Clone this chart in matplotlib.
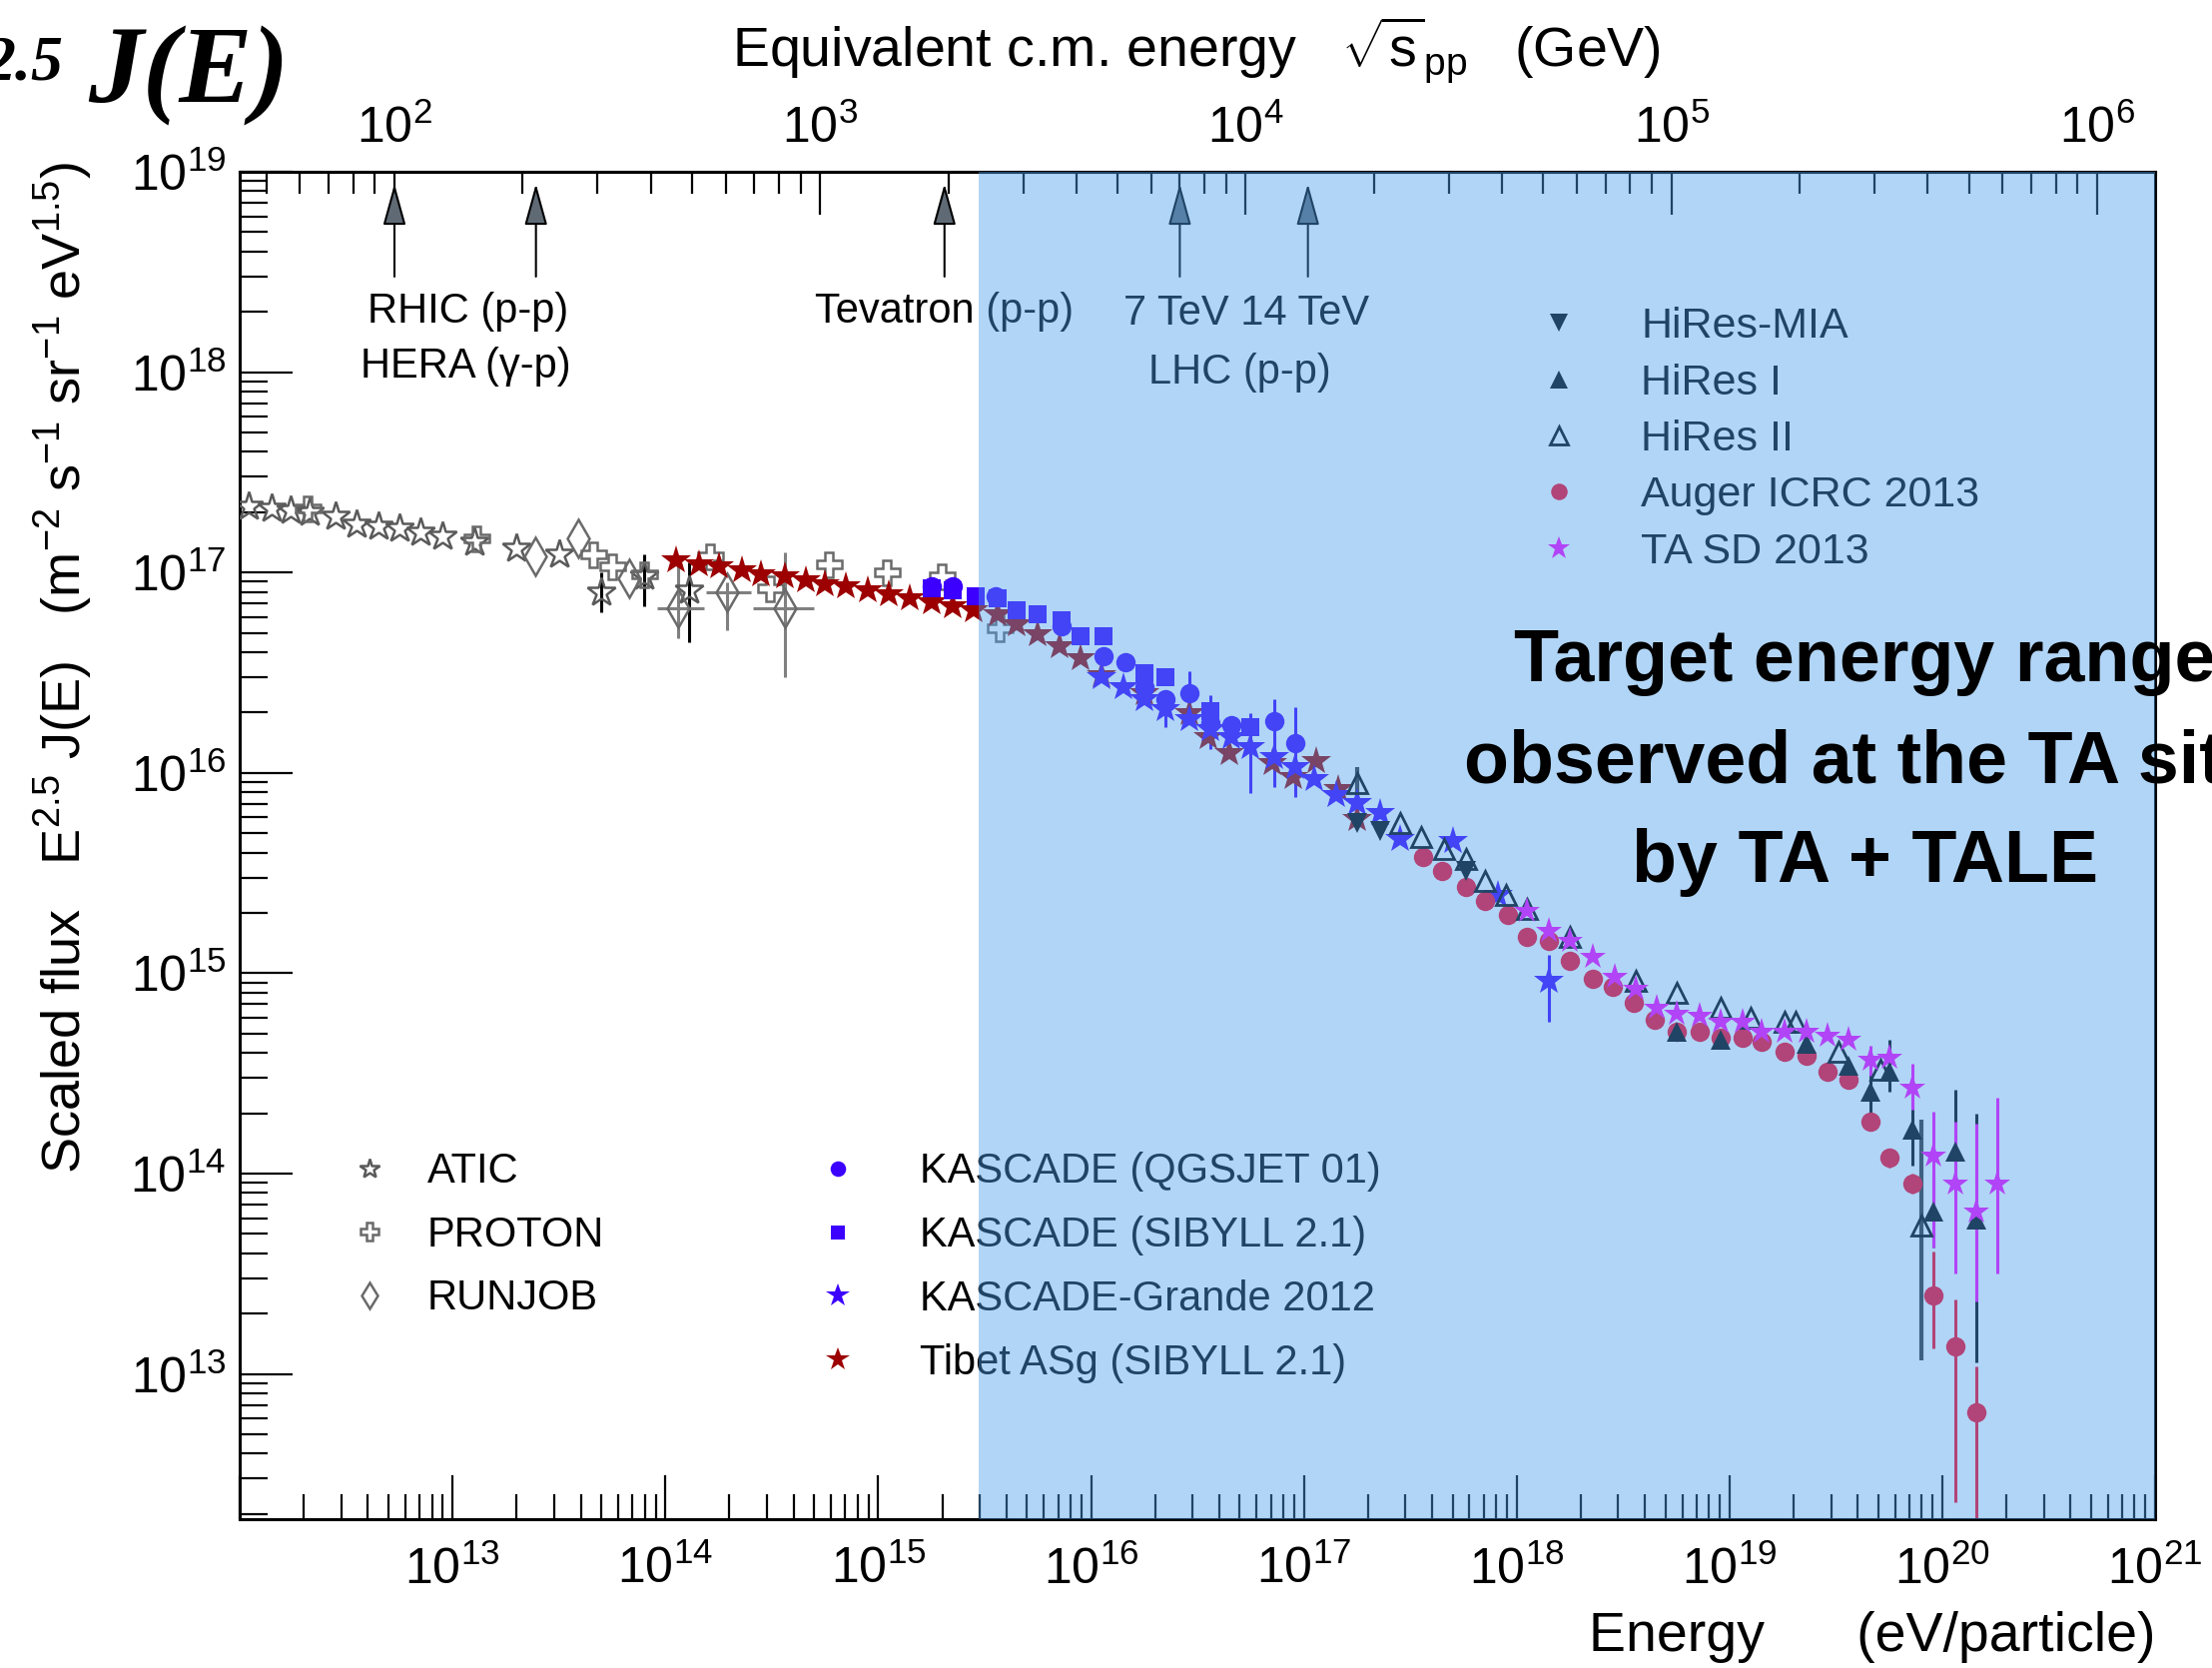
import numpy as np
import matplotlib
matplotlib.use("Agg")
import matplotlib.pyplot as plt
from matplotlib.ticker import LogLocator, NullFormatter, LogFormatterSciNotation, FuncFormatter

plt.rcParams['font.family'] = ['Liberation Sans Narrow', 'Liberation Sans', 'DejaVu Sans']
plt.rcParams['mathtext.fontset'] = 'custom'
plt.rcParams['mathtext.rm'] = 'Liberation Sans'
plt.rcParams['mathtext.default'] = 'regular'

# cosmic-ray spectra, log10(E / eV) and log10(E^2.5 J(E))
atic_lgE = [12.04, 12.15, 12.24, 12.33, 12.45, 12.55, 12.65, 12.75, 12.85, 12.95, 13.10, 13.30, 13.50, 13.70, 13.90, 14.11]
atic_lgF = [17.33, 17.32, 17.31, 17.30, 17.28, 17.24, 17.23, 17.22, 17.20, 17.18, 17.15, 17.12, 17.09, 16.90, 16.98, 16.91]
atic_err_lgE = [13.70, 13.90, 14.11]
atic_err_lo = [16.80, 16.83, 16.65]
atic_err_hi = [17.00, 17.09, 17.05]

proton_lgE = [12.32, 13.11, 13.66, 13.75, 13.90, 14.21, 14.49, 14.77, 15.04, 15.30, 15.57]
proton_lgF = [17.32, 17.17, 17.09, 17.03, 16.99, 17.08, 16.92, 17.04, 17.00, 16.98, 16.72]

runjob_lgE = [13.39, 13.59, 13.83, 14.06, 14.29, 14.56]
runjob_lgF = [17.08, 17.17, 16.97, 16.82, 16.90, 16.82]
runjob_err_lgE = [14.06, 14.29, 14.56]
runjob_err_lgF = [16.82, 16.90, 16.82]
runjob_xlo = [13.96, 14.19, 14.41]
runjob_xhi = [14.18, 14.40, 14.70]
runjob_ylo = [16.67, 16.71, 16.48]
runjob_yhi = [17.05, 16.95, 17.10]

tibet_lgE = [14.05, 14.16, 14.25, 14.36, 14.45, 14.56, 14.66, 14.75, 14.85, 14.95, 15.05, 15.15, 15.25, 15.35,
             15.45, 15.56, 15.65, 15.75, 15.85, 15.95, 16.05, 16.25, 16.46, 16.55, 16.65, 16.85, 16.95, 17.06,
             17.16, 17.25]
tibet_lgF = [17.06, 17.04, 17.03, 17.01, 16.99, 16.98, 16.96, 16.94, 16.93, 16.91, 16.89, 16.87, 16.85, 16.83,
             16.81, 16.79, 16.74, 16.69, 16.63, 16.57, 16.49, 16.40, 16.30, 16.18, 16.10, 16.05, 15.98, 16.06,
             15.92, 15.77]

kq_lgE = [15.25, 15.35, 15.55, 15.86, 16.06, 16.16, 16.25, 16.35, 16.46, 16.56, 16.66, 16.86, 16.96]
kq_lgF = [16.93, 16.93, 16.88, 16.73, 16.58, 16.55, 16.43, 16.37, 16.40, 16.25, 16.24, 16.26, 16.15]
kq_err_lgE = [16.46, 16.86, 16.96]
kq_err_lo = [16.30, 15.93, 15.88]
kq_err_hi = [16.51, 16.37, 16.33]

ks_lgE = [15.25, 15.35, 15.46, 15.56, 15.65, 15.75, 15.86, 15.95, 16.06, 16.25, 16.35, 16.56, 16.75]
ks_lgF = [16.92, 16.91, 16.88, 16.87, 16.81, 16.79, 16.76, 16.68, 16.68, 16.50, 16.48, 16.31, 16.23]
ks_err_lgE = [16.56]
ks_err_lo = [16.12]
ks_err_hi = [16.39]

kg_lgE = [16.05, 16.15, 16.25, 16.35, 16.46, 16.56, 16.66, 16.75, 16.86, 16.96, 17.05, 17.15, 17.25, 17.36,
          17.45, 17.70, 17.91, 18.15]
kg_lgF = [16.48, 16.43, 16.37, 16.32, 16.27, 16.22, 16.18, 16.13, 16.08, 16.03, 15.97, 15.89, 15.85, 15.80,
          15.67, 15.66, 15.39, 14.96]
kg_err_lgE = [16.35, 16.75, 18.15]
kg_err_lo = [16.23, 15.90, 14.76]
kg_err_hi = [16.39, 16.30, 15.09]

mia_lgE = [17.25, 17.36, 17.76]
mia_lgF = [15.75, 15.71, 15.51]

hires1_lgE = [18.75, 18.96, 19.36, 19.56, 19.66, 19.75, 19.86, 19.96, 20.06, 20.16]
hires1_lgF = [14.71, 14.67, 14.65, 14.54, 14.41, 14.51, 14.22, 13.81, 14.11, 13.77]
hires1_err_lgE = [19.66, 19.75, 19.86, 19.96, 20.06, 20.16]
hires1_err_lo = [14.30, 14.41, 14.04, 13.63, 13.90, 13.06]
hires1_err_hi = [14.50, 14.67, 14.40, 14.00, 14.42, 14.30]

hires2_lgE = [17.25, 17.45, 17.55, 17.66, 17.76, 17.85, 17.95, 18.05, 18.25, 18.56, 18.75, 18.96, 19.10, 19.26,
              19.31, 19.51, 19.71, 19.90]
hires2_lgF = [15.95, 15.75, 15.68, 15.62, 15.57, 15.46, 15.39, 15.32, 15.18, 14.96, 14.90, 14.83, 14.78, 14.76,
              14.76, 14.61, 14.52, 13.74]
hires2_err_lgE = [17.25, 19.90]
hires2_err_lo = [15.90, 13.07]
hires2_err_hi = [16.03, 14.27]

auger_lgE = [17.56, 17.65, 17.76, 17.85, 17.96, 18.05, 18.15, 18.25, 18.36, 18.45, 18.55, 18.65, 18.75, 18.86,
             18.96, 19.06, 19.15, 19.26, 19.36, 19.46, 19.56, 19.66, 19.75, 19.86, 19.96, 20.06, 20.16]
auger_lgF = [15.58, 15.51, 15.43, 15.36, 15.29, 15.18, 15.16, 15.06, 14.97, 14.93, 14.85, 14.77, 14.71, 14.71,
             14.68, 14.68, 14.66, 14.61, 14.59, 14.51, 14.47, 14.26, 14.08, 13.95, 13.39, 13.14, 12.81]
auger_err_lgE = [19.75, 19.86, 19.96, 20.06, 20.16]
auger_err_lo = [14.03, 13.90, 13.13, 12.36, 12.00]
auger_err_hi = [14.12, 14.00, 13.61, 13.37, 13.04]

ta_lgE = [18.05, 18.15, 18.25, 18.36, 18.46, 18.56, 18.66, 18.75, 18.86, 18.96, 19.06, 19.15, 19.26, 19.36,
          19.46, 19.56, 19.66, 19.75, 19.86, 19.96, 20.06, 20.16, 20.26]
ta_lgF = [15.31, 15.21, 15.16, 15.08, 14.98, 14.92, 14.83, 14.80, 14.79, 14.76, 14.76, 14.71, 14.71, 14.71,
          14.69, 14.67, 14.57, 14.58, 14.43, 14.09, 13.95, 13.81, 13.95]
ta_err_lgE = [19.66, 19.86, 19.96, 20.06, 20.16, 20.26]
ta_err_lo = [14.49, 14.32, 13.63, 13.50, 13.36, 13.50]
ta_err_hi = [14.64, 14.55, 14.31, 14.26, 14.25, 14.38]

# accelerators, equivalent c.m. energy in GeV
collider_sqrt_s = [100, 215, 1960, 7000, 14000]

M_P = 0.938  # proton mass, GeV
TA_LOWER_EDGE = 10 ** 15.47  # eV


def pw(a):
    return 10.0 ** np.asarray(a, dtype=float)


def to_sqrt_s(e):
    e = np.clip(np.asarray(e, dtype=float), 1e-30, None)
    return np.sqrt(2 * M_P * e / 1e9)


def to_energy(s):
    s = np.asarray(s, dtype=float)
    return s ** 2 / (2 * M_P) * 1e9


def vbars(ax, lgE, lo, hi, color, lw=2.2):
    x = pw(lgE)
    ax.vlines(x, pw(lo), pw(hi), colors=color, lw=lw, zorder=2)


fig = plt.figure(figsize=(22.15, 16.70), dpi=100)
ax = fig.add_axes([0.1084, 0.0892, 0.8659, 0.8078])
ax.set_xscale('log')
ax.set_yscale('log')
ax.set_xlim(1e12, 1e21)
ax.set_ylim(10 ** 12.275, 1e19)

grey = '#5a5a5a'
red = '#9c0000'
kblue = '#3c00ff'

# error bars first, markers on top
vbars(ax, atic_err_lgE, atic_err_lo, atic_err_hi, 'black')
ax.hlines(pw(runjob_err_lgF), pw(runjob_xlo), pw(runjob_xhi), colors='#808080', lw=2.2, zorder=2)
vbars(ax, runjob_err_lgE, runjob_ylo, runjob_yhi, '#808080')
vbars(ax, kq_err_lgE, kq_err_lo, kq_err_hi, kblue)
vbars(ax, ks_err_lgE, ks_err_lo, ks_err_hi, kblue)
vbars(ax, kg_err_lgE, kg_err_lo, kg_err_hi, kblue)
vbars(ax, hires2_err_lgE, hires2_err_lo, hires2_err_hi, '#333333', lw=3)
vbars(ax, hires1_err_lgE, hires1_err_lo, hires1_err_hi, 'black')
vbars(ax, auger_err_lgE, auger_err_lo, auger_err_hi, '#ff0022')
vbars(ax, ta_err_lgE, ta_err_lo, ta_err_hi, '#ff00ff')

h_atic, = ax.plot(pw(atic_lgE), pw(atic_lgF), ls='none', marker='*', ms=21, mfc='none', mec=grey, mew=1.8,
                  label='ATIC', zorder=3)
h_proton, = ax.plot(pw(proton_lgE), pw(proton_lgF), ls='none', marker='P', ms=18, mfc='none', mec='#6a6a6a',
                    mew=1.8, label='PROTON', zorder=3)
h_runjob, = ax.plot(pw(runjob_lgE), pw(runjob_lgF), ls='none', marker='d', ms=19, mfc='none', mec='#6a6a6a',
                    mew=1.8, label='RUNJOB', zorder=3)
h_tibet, = ax.plot(pw(tibet_lgE), pw(tibet_lgF), ls='none', marker='*', ms=22, color=red, mew=0,
                   label='Tibet ASg (SIBYLL 2.1)', zorder=3)
h_kq, = ax.plot(pw(kq_lgE), pw(kq_lgF), ls='none', marker='o', ms=14, color=kblue, mew=0,
                label='KASCADE (QGSJET 01)', zorder=3)
h_ks, = ax.plot(pw(ks_lgE), pw(ks_lgF), ls='none', marker='s', ms=13, color=kblue, mew=0,
                label='KASCADE (SIBYLL 2.1)', zorder=3)
h_kg, = ax.plot(pw(kg_lgE), pw(kg_lgF), ls='none', marker='*', ms=22, color=kblue, mew=0,
                label='KASCADE-Grande 2012', zorder=3)
h_auger, = ax.plot(pw(auger_lgE), pw(auger_lgF), ls='none', marker='o', ms=14, color='#ff0022', mew=0,
                   label='Auger ICRC 2013', zorder=3)
h_mia, = ax.plot(pw(mia_lgE), pw(mia_lgF), ls='none', marker='v', ms=15, color='black', mew=0,
                 label='HiRes-MIA', zorder=3)
h_h1, = ax.plot(pw(hires1_lgE), pw(hires1_lgF), ls='none', marker='^', ms=15, color='black', mew=0,
                label='HiRes I', zorder=3)
h_h2, = ax.plot(pw(hires2_lgE), pw(hires2_lgF), ls='none', marker='^', ms=15, mfc='none', mec='black', mew=2,
                label='HiRes II', zorder=3)
h_ta, = ax.plot(pw(ta_lgE), pw(ta_lgF), ls='none', marker='*', ms=20, color='#ff00ff', mew=0,
                label='TA SD 2013', zorder=3.1)

# accelerator arrows and names
for s in collider_sqrt_s:
    e = to_energy(s)
    ax.annotate('', xy=(e, 10 ** 18.94), xytext=(e, 10 ** 18.477),
                arrowprops=dict(arrowstyle='-|>,head_length=0.65,head_width=0.18', mutation_scale=40,
                                fc='#5f6a75', ec='black', lw=1.5, shrinkA=0, shrinkB=0), zorder=3)

acc_kw = dict(ha='center', va='center', fontsize=30, zorder=3)
ax.text(10 ** 13.07, 10 ** 18.30, 'RHIC (p-p)', **acc_kw)
ax.text(10 ** 13.06, 10 ** 18.03, 'HERA (\u03b3-p)', **acc_kw)
ax.text(10 ** 15.31, 10 ** 18.30, 'Tevatron (p-p)', **acc_kw)
ax.text(10 ** 16.73, 10 ** 18.29, '7 TeV 14 TeV', **acc_kw)
ax.text(10 ** 16.70, 10 ** 18.00, 'LHC (p-p)', **acc_kw)

leg_kw = dict(frameon=False, borderpad=0, borderaxespad=0, loc='upper left')
leg1 = ax.legend(handles=[h_atic, h_proton, h_runjob], bbox_to_anchor=(0.055, 0.2725), fontsize=30,
                 handlelength=1.18, handletextpad=0.8, labelspacing=0.56, markerscale=0.7, **leg_kw)
leg1.set_zorder(4)
ax.add_artist(leg1)
leg2 = ax.legend(handles=[h_kq, h_ks, h_kg, h_tibet], bbox_to_anchor=(0.2995, 0.2725), fontsize=30,
                 handlelength=1.18, handletextpad=1.37, labelspacing=0.57, markerscale=0.8, **leg_kw)
leg2.set_zorder(4)
ax.add_artist(leg2)
leg3 = ax.legend(handles=[h_mia, h_h1, h_h2, h_auger, h_ta], bbox_to_anchor=(0.6758, 0.8997), fontsize=31,
                 handlelength=1.14, handletextpad=1.34, labelspacing=0.38, markerscale=0.85, **leg_kw)
leg3.set_zorder(4)

# energy range covered by TA + TALE
ax.axvspan(TA_LOWER_EDGE, 1e21, facecolor='#4b9fec', alpha=0.43, lw=0, zorder=5)

# axes styling
sci = LogFormatterSciNotation()


def energy_label(v, pos):
    # the corner value is left unlabelled
    if v <= 1.01e12:
        return ''
    return sci(v, pos)


for sp in ax.spines.values():
    sp.set_linewidth(2.2)
ax.xaxis.set_major_locator(LogLocator(base=10, numticks=30))
ax.xaxis.set_minor_locator(LogLocator(base=10, subs=np.arange(2, 10), numticks=100))
ax.yaxis.set_major_locator(LogLocator(base=10, numticks=30))
ax.yaxis.set_minor_locator(LogLocator(base=10, subs=np.arange(2, 10), numticks=100))
ax.xaxis.set_major_formatter(FuncFormatter(energy_label))
ax.xaxis.set_minor_formatter(NullFormatter())
ax.yaxis.set_minor_formatter(NullFormatter())
ax.tick_params(which='both', direction='in', top=False, right=False, width=1.6, labelsize=36)
ax.tick_params(axis='x', which='major', length=32, pad=19)
ax.tick_params(axis='x', which='minor', length=18)
ax.tick_params(axis='y', which='major', length=38, pad=10)
ax.tick_params(axis='y', which='minor', length=20)

top = ax.secondary_xaxis('top', functions=(to_sqrt_s, to_energy))
top.xaxis.set_major_locator(LogLocator(base=10, numticks=30))
top.xaxis.set_minor_locator(LogLocator(base=10, subs=np.arange(2, 10), numticks=100))
top.xaxis.set_minor_formatter(NullFormatter())
top.tick_params(which='both', direction='in', width=1.6, labelsize=36)
top.tick_params(which='major', length=31, pad=14)
top.tick_params(which='minor', length=16)
top.spines['top'].set_linewidth(2.2)

ax.set_ylabel('Scaled flux   E$^{2.5}$ J(E)   (m$^{-2}$ s$^{-1}$ sr$^{-1}$ eV$^{1.5}$)', fontsize=39, loc='top')
ax.yaxis.set_label_coords(-0.076, 1.007)
ax.set_xlabel('Energy      (eV/particle)', fontsize=40, loc='right')
ax.xaxis.set_label_coords(1.0, -0.068)
fig.text(0.5409, 1 - 66 / 1670, r'Equivalent c.m. energy   $\sqrt{s}_{pp}$   (GeV)', ha='center', va='baseline',
         fontsize=40)

# slide annotations
fig.text(0.0289, 1 - 79 / 1670, '2.5', fontfamily='Liberation Serif', fontweight='bold', fontstyle='italic',
         fontsize=46, ha='right', va='baseline')
fig.text(0.0397, 1 - 102 / 1670, 'J(E)', fontfamily='Liberation Serif', fontweight='bold', fontstyle='italic',
         fontsize=79, ha='left', va='baseline')

note_kw = dict(fontfamily='Liberation Sans', fontweight='bold', fontsize=53, ha='center', va='baseline', zorder=10)
fig.text(0.843, 1 - 682 / 1670, 'Target energy range', **note_kw)
fig.text(0.843, 1 - 784 / 1670, 'observed at the TA site', **note_kw)
fig.text(0.843, 1 - 883 / 1670, 'by TA + TALE', **note_kw)

fig.savefig('out.png', dpi=100)
